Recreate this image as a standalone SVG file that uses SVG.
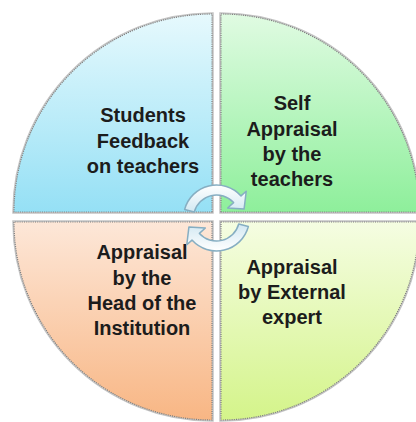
<svg xmlns="http://www.w3.org/2000/svg" width="416" height="422" viewBox="0 0 416 422">
  <defs>
    <linearGradient id="gBlue" x1="0" y1="14" x2="0" y2="212" gradientUnits="userSpaceOnUse">
      <stop offset="0" stop-color="#e6f9fd"/>
      <stop offset="1" stop-color="#95e0f5"/>
    </linearGradient>
    <linearGradient id="gGreen" x1="0" y1="14" x2="0" y2="212" gradientUnits="userSpaceOnUse">
      <stop offset="0" stop-color="#e0fbe2"/>
      <stop offset="1" stop-color="#8eef9b"/>
    </linearGradient>
    <linearGradient id="gOrange" x1="0" y1="222" x2="0" y2="420" gradientUnits="userSpaceOnUse">
      <stop offset="0" stop-color="#fde7d8"/>
      <stop offset="1" stop-color="#f8b684"/>
    </linearGradient>
    <linearGradient id="gLime" x1="0" y1="222" x2="0" y2="420" gradientUnits="userSpaceOnUse">
      <stop offset="0" stop-color="#f5fde2"/>
      <stop offset="1" stop-color="#d4f48a"/>
    </linearGradient>
    <linearGradient id="gArrow" x1="0" y1="0" x2="0" y2="1">
      <stop offset="0" stop-color="#ffffff"/>
      <stop offset="1" stop-color="#d2e8f2"/>
    </linearGradient>
  </defs>
  <style>
    .shade { fill: none; stroke: #c4c4c4; stroke-width: 3.5; }
    .dots { fill: none; stroke: #7d7d7d; stroke-width: 1.2; stroke-dasharray: 1 1.2; }
    .lbl { font-family: "Liberation Sans", Arial, sans-serif; font-weight: bold; font-size: 20px; fill: #1c1c1c; text-anchor: middle; }
    .arrow { fill: url(#gArrow); stroke: #86aec2; stroke-width: 1.5; stroke-linejoin: round; }
  </style>

  <g id="node-students-feedback">
    <path class="shade" d="M212,212 L212,14 A198,198 0 0 0 14,212 Z"/>
    <path d="M212,212 L212,14 A198,198 0 0 0 14,212 Z" fill="url(#gBlue)"/>
    <path class="dots" d="M212,212 L212,14 A198,198 0 0 0 14,212 Z"/>
    <text class="lbl" x="143" y="122">Students</text>
    <text class="lbl" x="143" y="147.5">Feedback</text>
    <text class="lbl" x="143" y="173">on teachers</text>
  </g>

  <g id="node-self-appraisal">
    <path class="shade" d="M221,212 L221,14 A198,198 0 0 1 419,212 Z"/>
    <path d="M221,212 L221,14 A198,198 0 0 1 419,212 Z" fill="url(#gGreen)"/>
    <path class="dots" d="M221,212 L221,14 A198,198 0 0 1 419,212 Z"/>
    <text class="lbl" x="292" y="110">Self</text>
    <text class="lbl" x="292" y="135.5">Appraisal</text>
    <text class="lbl" x="292" y="161">by the</text>
    <text class="lbl" x="292" y="186">teachers</text>
  </g>

  <g id="node-head-appraisal">
    <path class="shade" d="M212,222 L14,222 A198,198 0 0 0 212,420 Z"/>
    <path d="M212,222 L14,222 A198,198 0 0 0 212,420 Z" fill="url(#gOrange)"/>
    <path class="dots" d="M212,222 L14,222 A198,198 0 0 0 212,420 Z"/>
    <text class="lbl" x="142" y="259">Appraisal</text>
    <text class="lbl" x="142" y="285">by the</text>
    <text class="lbl" x="142" y="310">Head of the</text>
    <text class="lbl" x="142" y="335">Institution</text>
  </g>

  <g id="node-external-appraisal">
    <path class="shade" d="M221,222 L419,222 A198,198 0 0 1 221,420 Z"/>
    <path d="M221,222 L419,222 A198,198 0 0 1 221,420 Z" fill="url(#gLime)"/>
    <path class="dots" d="M221,222 L419,222 A198,198 0 0 1 221,420 Z"/>
    <text class="lbl" x="292" y="274">Appraisal</text>
    <text class="lbl" x="292" y="299">by External</text>
    <text class="lbl" x="292" y="324">expert</text>
  </g>

  <g id="connectors">
    <path class="arrow" d="M184.63,209.46 A33,33 0 0 1 241.02,195.92 L246.22,191.24 L244.08,209.04 L227.65,207.96 L233.59,202.61 A23,23 0 0 0 194.28,212.05 Z"/>
    <path class="arrow" transform="rotate(180 216.5 218)" d="M184.63,209.46 A33,33 0 0 1 241.02,195.92 L246.22,191.24 L244.08,209.04 L227.65,207.96 L233.59,202.61 A23,23 0 0 0 194.28,212.05 Z"/>
  </g>
</svg>
